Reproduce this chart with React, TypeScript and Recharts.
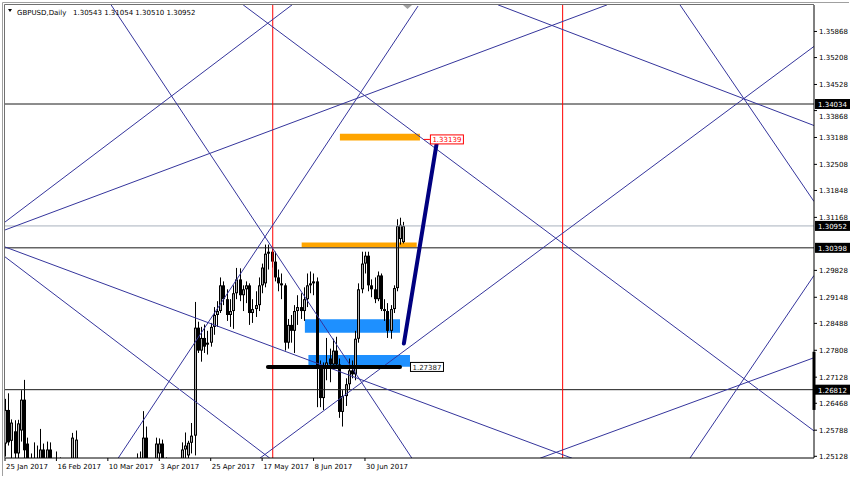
import React from 'react';
import { ComposedChart, Bar, XAxis, YAxis, ReferenceLine, ReferenceArea, ReferenceDot } from 'recharts';

const FONT = '"DejaVu Sans", Tahoma, sans-serif';

// daily bars, bar 0 = 25 Jan 2017 (weekends skipped)
const opens = [
  1.2545, 1.2630, 1.2552, 1.2576, 1.2520, 1.2578, 1.2656, 1.2545, 1.2490, 1.2440,
  1.2500, 1.2488, 1.2530, 1.2480, 1.2530, 1.2470, 1.2410, 1.2500, 1.2410, 1.2470,
  1.2460, 1.2440, 1.2490, 1.2490, 1.2410, 1.2410, 1.2290, 1.2270, 1.2290, 1.2250,
  1.2210, 1.2170, 1.2160, 1.2190, 1.2210, 1.2150, 1.2290, 1.2360, 1.2400, 1.2370,
  1.2470, 1.2480, 1.2495, 1.2475, 1.2560, 1.2490, 1.2420, 1.2470, 1.2520, 1.2545,
  1.2470, 1.2480, 1.2490, 1.2400, 1.2410, 1.2480, 1.2530, 1.2515, 1.2547, 1.2565,
  1.2838, 1.2780, 1.2812, 1.2795, 1.2800, 1.2840, 1.2870, 1.2880, 1.2945, 1.2910,
  1.2870, 1.2880, 1.2925, 1.2960, 1.2920, 1.2935, 1.2945, 1.2875, 1.2885, 1.2895,
  1.2945, 1.2950, 1.3025, 1.3030, 1.3005, 1.2965, 1.2950, 1.2945, 1.2800, 1.2845,
  1.2830, 1.2880, 1.2890, 1.2880, 1.2910, 1.2945, 1.2950, 1.2955, 1.2740, 1.2660,
  1.2740, 1.2760, 1.2745, 1.2780, 1.2745, 1.2625, 1.2665, 1.2695, 1.2730, 1.2720,
  1.2810, 1.2935, 1.3000, 1.3020, 1.2945, 1.2935, 1.2910, 1.2970, 1.2885, 1.2880,
  1.2830, 1.2885, 1.2938, 1.3062, 1.30543,
];
const highs = [
  1.2658, 1.2672, 1.2606, 1.2604, 1.2605, 1.2680, 1.2706, 1.2560, 1.2520, 1.2548,
  1.2540, 1.2582, 1.2545, 1.2550, 1.2548, 1.2500, 1.2525, 1.2510, 1.2490, 1.2500,
  1.2480, 1.2572, 1.2578, 1.2500, 1.2450, 1.2420, 1.2310, 1.2310, 1.2310, 1.2260,
  1.2220, 1.2190, 1.2210, 1.2280, 1.2220, 1.2300, 1.2380, 1.2420, 1.2410, 1.2480,
  1.2500, 1.2520, 1.2525, 1.2627, 1.2588, 1.2500, 1.2480, 1.2560, 1.2558, 1.2555,
  1.2510, 1.2505, 1.2500, 1.2430, 1.2490, 1.2548, 1.2573, 1.2552, 1.2597, 1.2903,
  1.2853, 1.2840, 1.2846, 1.2830, 1.2850, 1.2890, 1.2905, 1.2965, 1.2955, 1.2935,
  1.2910, 1.2945, 1.2989, 1.2988, 1.2945, 1.2955, 1.2950, 1.2910, 1.2930, 1.2965,
  1.3000, 1.3048, 1.3048, 1.3040, 1.3030, 1.2985, 1.2975, 1.2950, 1.2860, 1.2870,
  1.2895, 1.2920, 1.2925, 1.2940, 1.2975, 1.2980, 1.2975, 1.2965, 1.2755, 1.2750,
  1.2812, 1.2785, 1.2810, 1.2815, 1.2760, 1.2680, 1.2710, 1.2760, 1.2755, 1.2830,
  1.2950, 1.3030, 1.3030, 1.3030, 1.2960, 1.2965, 1.2980, 1.2975, 1.2910, 1.2900,
  1.2895, 1.2945, 1.3112, 1.3116, 1.31054,
];
const lows = [
  1.2512, 1.2540, 1.2490, 1.2440, 1.2470, 1.2550, 1.2500, 1.2470, 1.2380, 1.2345,
  1.2430, 1.2460, 1.2460, 1.2450, 1.2440, 1.2380, 1.2400, 1.2385, 1.2390, 1.2410,
  1.2380, 1.2420, 1.2460, 1.2380, 1.2380, 1.2270, 1.2250, 1.2220, 1.2230, 1.2170,
  1.2160, 1.2130, 1.2130, 1.2180, 1.2110, 1.2140, 1.2270, 1.2340, 1.2340, 1.2360,
  1.2430, 1.2440, 1.2450, 1.2470, 1.2470, 1.2390, 1.2380, 1.2450, 1.2470, 1.2450,
  1.2430, 1.2440, 1.2365, 1.2365, 1.2380, 1.2470, 1.2500, 1.2505, 1.2520, 1.2515,
  1.2774, 1.2752, 1.2774, 1.2770, 1.2790, 1.2820, 1.2840, 1.2875, 1.2895, 1.2855,
  1.2840, 1.2835, 1.2910, 1.2905, 1.2880, 1.2900, 1.2845, 1.2850, 1.2865, 1.2880,
  1.2925, 1.2940, 1.2985, 1.2990, 1.2955, 1.2930, 1.2910, 1.2780, 1.2785, 1.2800,
  1.2774, 1.2845, 1.2860, 1.2855, 1.2890, 1.2925, 1.2920, 1.2637, 1.2637, 1.2630,
  1.2705, 1.2700, 1.2735, 1.2740, 1.2610, 1.2588, 1.2640, 1.2680, 1.2710, 1.2705,
  1.2800, 1.2925, 1.2975, 1.2930, 1.2915, 1.2900, 1.2905, 1.2880, 1.2855, 1.2812,
  1.2810, 1.2875, 1.2930, 1.3048, 1.30510,
];
const closes = [
  1.2630, 1.2548, 1.2598, 1.2520, 1.2596, 1.2656, 1.2528, 1.2490, 1.2440, 1.2500,
  1.2488, 1.2530, 1.2480, 1.2530, 1.2470, 1.2410, 1.2500, 1.2410, 1.2470, 1.2460,
  1.2440, 1.2560, 1.2555, 1.2410, 1.2410, 1.2290, 1.2270, 1.2290, 1.2250, 1.2210,
  1.2170, 1.2160, 1.2190, 1.2210, 1.2150, 1.2290, 1.2360, 1.2400, 1.2370, 1.2470,
  1.2480, 1.2495, 1.2475, 1.2560, 1.2490, 1.2420, 1.2470, 1.2545, 1.2545, 1.2470,
  1.2480, 1.2490, 1.2400, 1.2410, 1.2480, 1.2530, 1.2540, 1.2547, 1.2565, 1.2838,
  1.2780, 1.2812, 1.2790, 1.2800, 1.2840, 1.2870, 1.2880, 1.2945, 1.2910, 1.2870,
  1.2880, 1.2925, 1.2960, 1.2920, 1.2935, 1.2945, 1.2875, 1.2885, 1.2895, 1.2945,
  1.2990, 1.3025, 1.3030, 1.3005, 1.2965, 1.2950, 1.2945, 1.2800, 1.2845, 1.2830,
  1.2880, 1.2890, 1.2880, 1.2910, 1.2945, 1.2950, 1.2955, 1.2740, 1.2660, 1.2740,
  1.2750, 1.2745, 1.2780, 1.2745, 1.2625, 1.2665, 1.2695, 1.2730, 1.2720, 1.2810,
  1.2935, 1.3000, 1.3020, 1.2945, 1.2935, 1.2910, 1.2970, 1.2885, 1.2880, 1.2830,
  1.2885, 1.2938, 1.3095, 1.3098, 1.30952,
];

const dateTicks = [0, 16, 32, 48, 64, 80, 96, 112];
const dateLabels = ['25 Jan 2017', '16 Feb 2017', '10 Mar 2017', '3 Apr 2017', '25 Apr 2017', '17 May 2017', '8 Jun 2017', '30 Jun 2017'];
const priceTicks = [
  1.25128, 1.25788, 1.26468, 1.27128, 1.27808, 1.28488, 1.29148, 1.29828,
  1.31168, 1.31848, 1.32508, 1.33188, 1.33868, 1.34528, 1.35208, 1.35868,
];

const priceMin = 1.25085;
const priceMax = 1.36537;
const lastSlot = 251.7; // chart shift: empty space right of the last bar

const levelLines = [1.34034, 1.30398, 1.26812];
const bidPrice = 1.30952;
const tagPrices = [...levelLines, bidPrice];
const timeLines = [83.3, 173.5];

// trend lines [bar1, price1, bar2, price2]
const trendLines = [
  [33.0, 1.3654, 126.6, 1.2508],
  [35.2, 1.2508, 128.5, 1.3651],
  [0, 1.3105, 89.3, 1.3654],
  [0, 1.3085, 187.3, 1.3654],
  [74.1, 1.3654, 251.7, 1.2577],
  [79.3, 1.2508, 251.7, 1.3549],
  [153.4, 1.3654, 251.7, 1.3349],
  [210.0, 1.3654, 251.7, 1.3157],
  [213.1, 1.2508, 251.7, 1.2970],
  [166.5, 1.2508, 251.7, 1.2762],
  [0, 1.3042, 176.4, 1.2508],
  [0, 1.3017, 82.4, 1.2508],
];

// rectangles [bar1, bar2, price1, price2]
const orangeZones = [
  [104.2, 129.1, 1.3311, 1.3328],
  [92.3, 128.1, 1.3041, 1.3053],
];
const blueZones = [
  [93.3, 122.9, 1.2825, 1.2859],
  [94.4, 126.0, 1.2739, 1.2769],
];

const data = opens.map((o, i) => ({ i, open: o, high: highs[i], low: lows[i], close: closes[i] }));

const Candle = (props: any) => {
  const { x, y, width, height, payload } = props;
  if (!payload || height == null) return null;
  const top = Math.min(y, y + height);
  const span = Math.abs(height);
  const range = payload.high - payload.low || 1;
  const toY = (v: number) => top + ((payload.high - v) / range) * span;
  const cx = Math.round(x + width / 2) + 0.5;
  const bTop = toY(Math.max(payload.open, payload.close));
  const bBot = toY(Math.min(payload.open, payload.close));
  const h = Math.max(1, bBot - bTop);
  const bull = payload.close >= payload.open;
  return (
    <g>
      <line x1={cx} x2={cx} y1={top} y2={top + span} stroke="#000" strokeWidth={1} />
      <rect x={cx - 1.5} y={bTop} width={3} height={h} fill="#000" />
      {bull && h > 2 && <rect x={cx - 0.5} y={bTop + 1} width={1} height={h - 2} fill="#b0b0b0" />}
    </g>
  );
};

const AxisTag = (props: any) => {
  const { viewBox, text } = props;
  if (!viewBox) return null;
  const x = viewBox.x + viewBox.width;
  const y = viewBox.y;
  return (
    <g>
      <rect x={x + 1} y={y - 5} width={35} height={10} fill="#000" />
      <text x={x + 4} y={y + 3} fontSize={7} fill="#fff" fontFamily={FONT}>{text}</text>
    </g>
  );
};

// a tick just under a price tag is pushed below the tag, as the terminal does
const PriceTick = (props: any) => {
  const { x, y, payload } = props;
  const v = payload.value;
  const under = tagPrices.some((p) => p > v && p - v < 0.0018);
  return (
    <text x={x} y={y + (under ? 5.5 : 0)} dy="0.355em" fontSize={7} fill="#000" fontFamily={FONT} textAnchor="start">
      {v.toFixed(5)}
    </text>
  );
};

const PriceTag = (props: any) => {
  const { cx, cy, text, color } = props;
  return (
    <g>
      {color !== '#000' && <line x1={cx - 6} x2={cx} y1={cy} y2={cy} stroke={color} />}
      <rect x={cx + 0.5} y={cy - 4.5} width={33} height={9} fill="#fff" stroke={color} />
      <text x={cx + 2.5} y={cy + 3} fontSize={7} fill={color === '#000' ? '#222' : color} fontFamily={FONT}>{text}</text>
    </g>
  );
};

const DateTick = (props: any) => {
  const { x, y, payload } = props;
  const k = dateTicks.indexOf(payload.value);
  return (
    <text x={x + 1} y={y + 6} fontSize={7} fill="#000" fontFamily={FONT} textAnchor="start">
      {dateLabels[k]}
    </text>
  );
};

export default function App() {
  return (
    <div style={{ position: 'absolute', left: 0, top: 0, width: 850, height: 480, background: '#fff' }}>
      <ComposedChart width={850} height={480} data={data} margin={{ top: 5, right: 0, bottom: 0, left: 5 }}>
        <XAxis
          dataKey="i"
          type="number"
          domain={[0, lastSlot]}
          ticks={dateTicks}
          interval={0}
          height={22}
          tickSize={3}
          axisLine={{ stroke: '#000' }}
          tickLine={{ stroke: '#000' }}
          tick={<DateTick />}
        />
        <YAxis
          orientation="right"
          type="number"
          domain={[priceMin, priceMax]}
          allowDataOverflow
          ticks={priceTicks}
          interval={0}
          width={36}
          tickSize={3}
          tickMargin={2}
          axisLine={{ stroke: '#000' }}
          tickLine={{ stroke: '#000' }}
          tick={<PriceTick />}
        />
        {orangeZones.map((z, k) => (
          <ReferenceArea key={'o' + k} x1={z[0]} x2={z[1]} y1={z[2]} y2={z[3]} fill="#ffa500" fillOpacity={1} stroke="none" />
        ))}
        {blueZones.map((z, k) => (
          <ReferenceArea key={'b' + k} x1={z[0]} x2={z[1]} y1={z[2]} y2={z[3]} fill="#1e90ff" fillOpacity={1} stroke="none" />
        ))}
        <ReferenceLine y={bidPrice} stroke="#a9b1bd" label={<AxisTag text={bidPrice.toFixed(5)} />} />
        {levelLines.map((p) => (
          <ReferenceLine key={p} y={p} stroke="#1a1a1a" label={<AxisTag text={p.toFixed(5)} />} />
        ))}
        {timeLines.map((t) => (
          <ReferenceLine key={t} x={t} stroke="#ff0000" />
        ))}
        {trendLines.map((s, k) => (
          <ReferenceLine
            key={'t' + k}
            segment={[{ x: s[0], y: s[1] }, { x: s[2], y: s[3] }]}
            stroke="#35359c"
            strokeWidth={1}
            ifOverflow="hidden"
          />
        ))}
        <Bar dataKey={(d: any) => [d.low, d.high]} barSize={3} shape={<Candle />} isAnimationActive={false} />
        <ReferenceLine
          segment={[{ x: 81.8, y: 1.27387 }, { x: 122.9, y: 1.27387 }]}
          stroke="#000"
          strokeWidth={4}
          strokeLinecap="round"
        />
        <ReferenceLine
          segment={[{ x: 124.1, y: 1.2798 }, { x: 134.3, y: 1.3304 }]}
          stroke="#000080"
          strokeWidth={4}
          strokeLinecap="round"
        />
        <ReferenceLine
          segment={[{ x: lastSlot, y: 1.2777 }, { x: lastSlot, y: 1.2630 }]}
          stroke="#000"
          strokeWidth={3}
          ifOverflow="visible"
        />
        <ReferenceDot x={126.0} y={1.27387} ifOverflow="visible" shape={(p: any) => <PriceTag {...p} text="1.27387" color="#000" />} />
        <ReferenceDot x={132.2} y={1.33139} ifOverflow="visible" shape={(p: any) => <PriceTag {...p} text="1.33139" color="#ff0000" />} />
      </ComposedChart>
      <svg width={850} height={480} style={{ position: 'absolute', left: 0, top: 0, pointerEvents: 'none' }}>
        <path d="M2.5 476 V2.5 H849" fill="none" stroke="#a0a0a0" />
        <path d="M4.5 458 V4.5 H814" fill="none" stroke="#707070" />
        <path d="M8 9 L12 9 L10 12 Z" fill="#000" />
        <path d="M403 5 L412 5 L407.5 9 Z" fill="#a0a0a0" />
        <text x={17} y={15} fontSize={7} fill="#000" fontFamily={FONT}>GBPUSD,Daily</text>
        <text x={73} y={15} fontSize={7} fill="#000" fontFamily={FONT}>1.30543 1.31054 1.30510 1.30952</text>
      </svg>
    </div>
  );
}
